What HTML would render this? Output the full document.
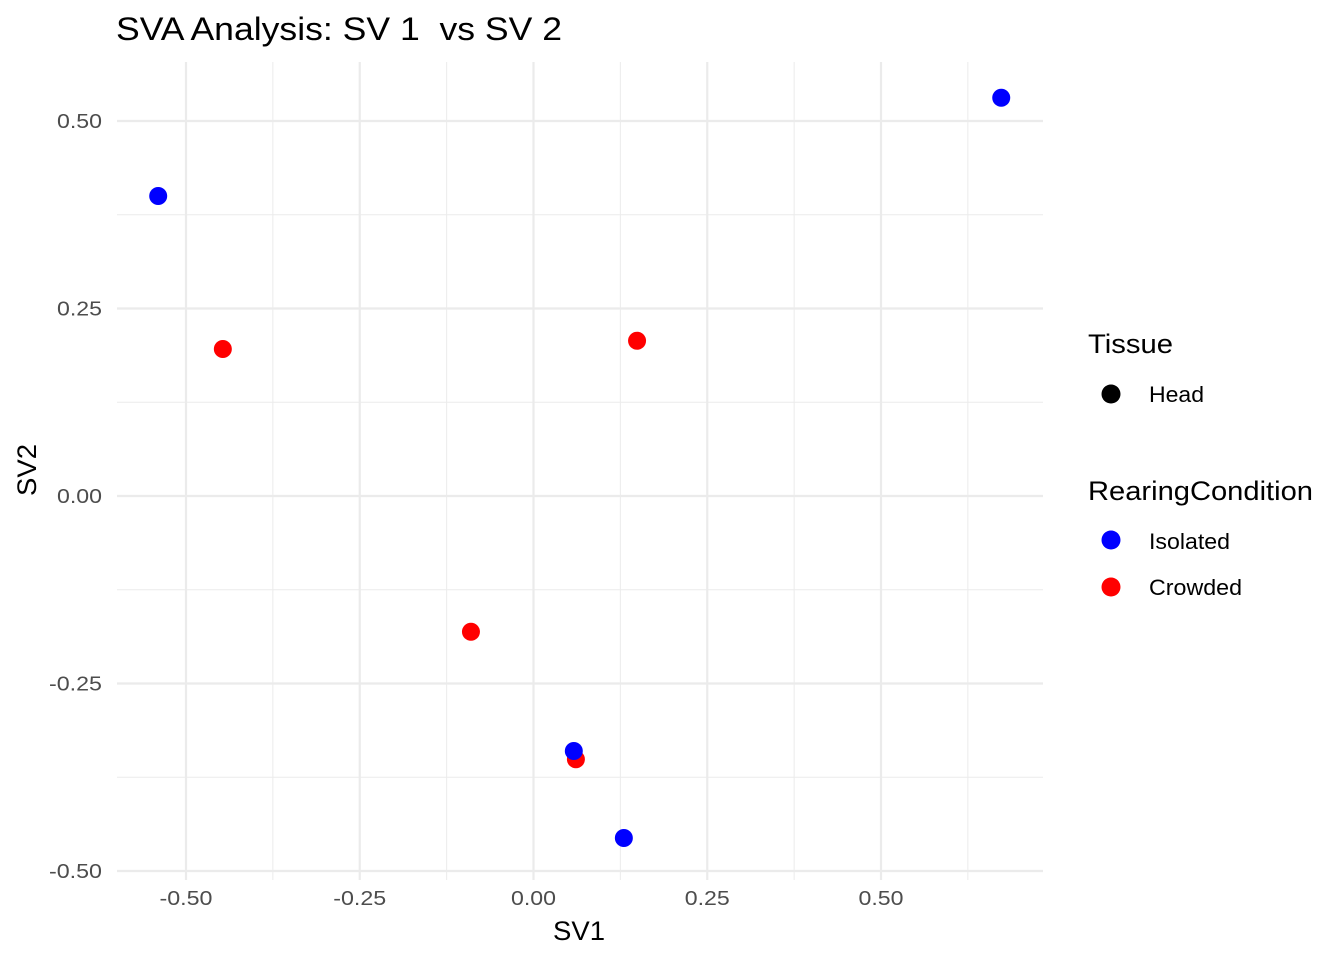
<!DOCTYPE html>
<html><head><meta charset="utf-8">
<style>
body{margin:0;background:#fff;font-family:"Liberation Sans",Arial,sans-serif;}
svg{display:block}
</style></head><body>
<svg id="chart" width="1344" height="960" xmlns="http://www.w3.org/2000/svg">
<text x="116" y="40" font-size="32" fill="#000" textLength="446" lengthAdjust="spacingAndGlyphs" xml:space="preserve" style="white-space:pre">SVA Analysis: SV 1  vs SV 2</text>
<g id="grid"></g>
<g id="ticks"></g>
<g id="points"></g>
<text x="553" y="940" font-size="27" textLength="52" lengthAdjust="spacingAndGlyphs">SV1</text>
<text transform="translate(36,496) rotate(-90)" font-size="27" textLength="52" lengthAdjust="spacingAndGlyphs">SV2</text>
<g>
<text x="1088" y="353" font-size="27" textLength="85" lengthAdjust="spacingAndGlyphs">Tissue</text>
<circle cx="1111" cy="394" r="9.5" fill="#000"/>
<text x="1149" y="402" font-size="22" textLength="55" lengthAdjust="spacingAndGlyphs">Head</text>
<text x="1088" y="500" font-size="27" textLength="225" lengthAdjust="spacingAndGlyphs">RearingCondition</text>
<circle cx="1111" cy="540" r="9.5" fill="#0000ff"/>
<text x="1149" y="549" font-size="22" textLength="81" lengthAdjust="spacingAndGlyphs">Isolated</text>
<circle cx="1111" cy="587" r="9.5" fill="#ff0000"/>
<text x="1149" y="595" font-size="22" textLength="93" lengthAdjust="spacingAndGlyphs">Crowded</text>
</g>
</svg>
<script>
const sv1 = [-0.540, -0.447, 0.149, -0.090, 0.061, 0.058, 0.130, 0.673];
const sv2 = [0.400, 0.196, 0.207, -0.181, -0.351, -0.340, -0.456, 0.531];
const condition = ["Isolated","Crowded","Crowded","Crowded","Crowded","Isolated","Isolated","Isolated"];
const xTicks = [-0.5, -0.25, 0, 0.25, 0.5];
const xTickLabels = ["-0.50","-0.25","0.00","0.25","0.50"];
const yTicks = [-0.5, -0.25, 0, 0.25, 0.5];
const yTickLabels = ["-0.50","-0.25","0.00","0.25","0.50"];
const xMinor = [-0.375,-0.125,0.125,0.375,0.625];
const yMinor = [-0.375,-0.125,0.125,0.375];

const NS="http://www.w3.org/2000/svg";
const L=117,R=1043,T=62,B=880;
const sx=v=>533.5+v*695;
const sy=v=>496-v*750;
const colors={Isolated:"#0000ff",Crowded:"#ff0000"};
function mk(tag,parent,attrs){const e=document.createElementNS(NS,tag);for(const k in attrs)e.setAttribute(k,attrs[k]);parent.appendChild(e);return e;}
const grid=document.getElementById('grid'),ticks=document.getElementById('ticks'),pts=document.getElementById('points');
function tw(s){return s.charAt(0)==='-'?53:45;}
xMinor.forEach(v=>{const e=mk('line',grid,{x1:sx(v),x2:sx(v),y1:T,y2:B,stroke:'#ebebeb','stroke-width':1});

});
yMinor.forEach(v=>{const e=mk('line',grid,{x1:L,x2:R,y1:sy(v),y2:sy(v),stroke:'#ebebeb','stroke-width':1});

});
xTicks.forEach((v,i)=>{const e=mk('line',grid,{x1:sx(v),x2:sx(v),y1:T,y2:B,stroke:'#ebebeb','stroke-width':2.2});


const s=xTickLabels[i];
const t=mk('text',ticks,{x:sx(v)-tw(s)/2,y:905,'font-size':20,fill:'#4d4d4d',textLength:tw(s),lengthAdjust:'spacingAndGlyphs'});t.textContent=s;

});
yTicks.forEach((v,i)=>{const e=mk('line',grid,{x1:L,x2:R,y1:sy(v),y2:sy(v),stroke:'#ebebeb','stroke-width':2.2});


const s=yTickLabels[i];
const t=mk('text',ticks,{x:102-tw(s),y:sy(v)+7,'font-size':20,fill:'#4d4d4d',textLength:tw(s),lengthAdjust:'spacingAndGlyphs'});t.textContent=s;

});
sv1.forEach((v,i)=>{const c=mk('circle',pts,{cx:sx(v),cy:sy(sv2[i]),r:9,fill:colors[condition[i]]});

});
</script>
</body></html>
